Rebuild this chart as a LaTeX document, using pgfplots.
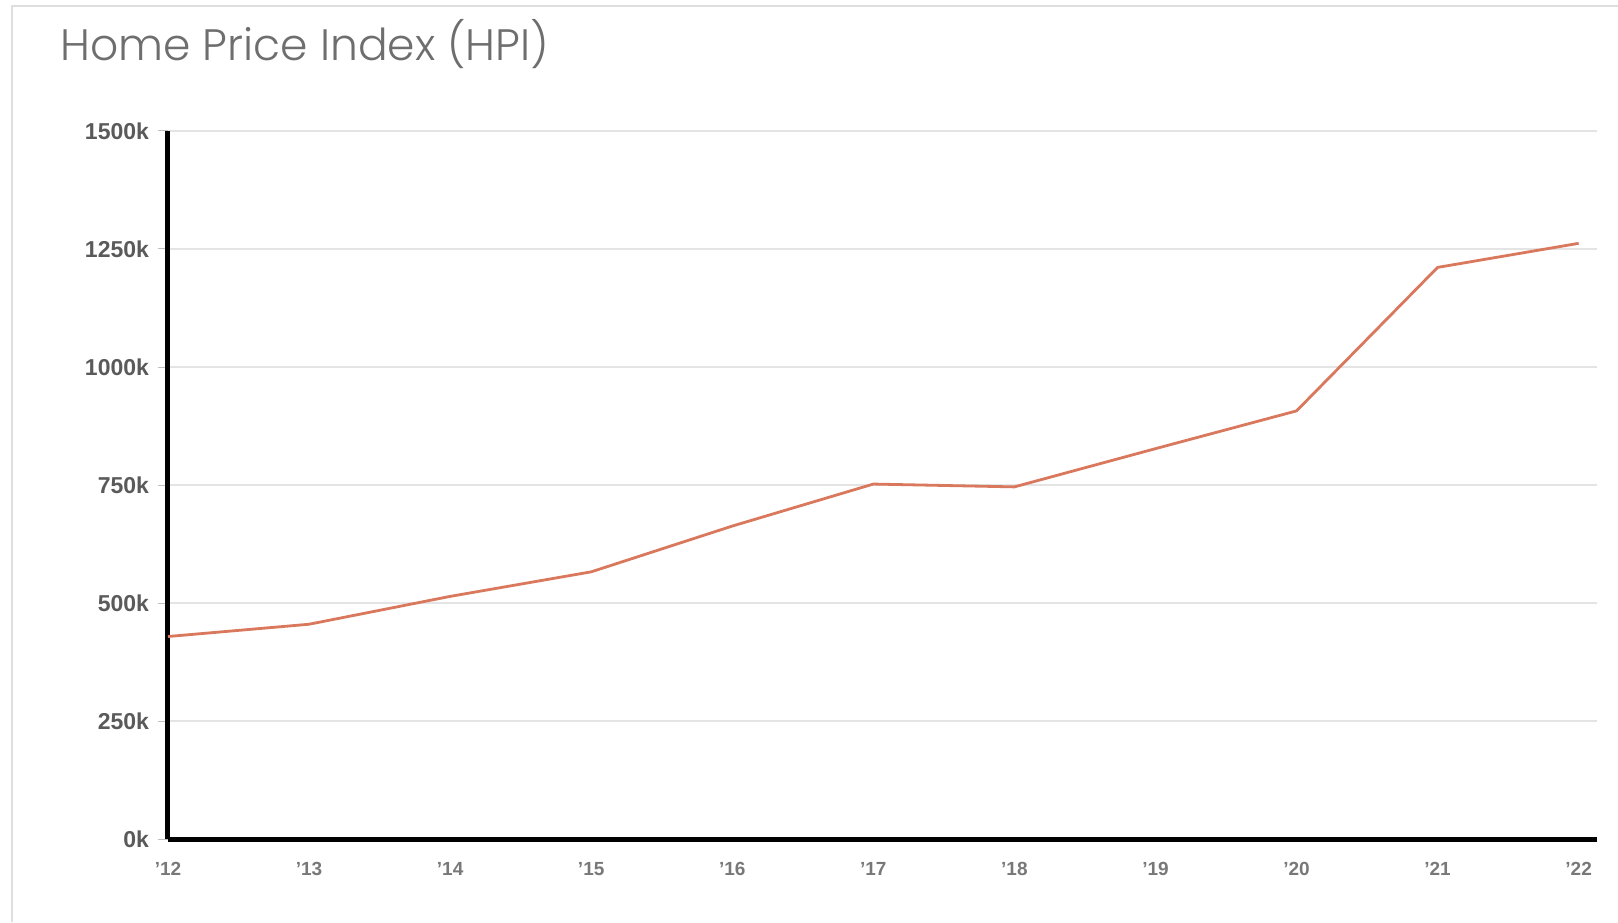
\documentclass[border=0pt]{standalone}
\usepackage{pgfplots}
\pgfplotsset{compat=1.18}
\usepackage{fontspec}
\setmainfont{Liberation Sans}
\newfontfamily\titlefont{Poppins Light}
\definecolor{hpi}{RGB}{217,120,92}
\definecolor{ytext}{RGB}{90,90,90}
\definecolor{xtext}{RGB}{120,120,120}
\definecolor{gridc}{RGB}{228,228,228}
\definecolor{titlec}{RGB}{110,110,110}
\definecolor{framec}{RGB}{222,222,222}
\begin{document}
\begin{tikzpicture}[x=0.5pt,y=0.5pt]
\path[use as bounding box] (0,0) rectangle (1618,922);
\draw[draw=framec, line width=1pt] (12,0) -- (12,916) -- (1618,916);
\node[anchor=base west, text=titlec, inner sep=0pt,
      font=\titlefont\fontsize{22}{26}\selectfont] at (60,861) {Home Price Index (HPI)};
\begin{axis}[
  at={(84pt,41.5pt)}, anchor=south west,
  scale only axis, width=714.5pt, height=354pt,
  xmin=12, xmax=22.13, ymin=0, ymax=1500,
  axis x line=bottom, axis y line=left,
  axis line style={line width=2.5pt, black, -},
  xtick={12,13,14,15,16,17,18,19,20,21,22},
  xticklabels={'12,'13,'14,'15,'16,'17,'18,'19,'20,'21,'22},
  ytick={0,250,500,750,1000,1250,1500},
  yticklabels={0k,250k,500k,750k,1000k,1250k,1500k},
  xtick style={draw=none},
  ytick style={draw=gray!50, line width=0.5pt},
  tick align=outside, major tick length=5pt,
  ymajorgrids, grid style={draw=gridc, line width=1pt},
  yticklabel style={font=\bfseries\fontsize{11.5}{13}\selectfont, text=ytext, xshift=-1pt},
  xticklabel style={font=\bfseries\fontsize{9.5}{12}\selectfont, text=xtext, yshift=-3pt},
  clip=false,
]
\addplot[hpi, line width=1.4pt, mark=none] coordinates {
  (12,429) (13,455) (14,514) (15,566) (16,663) (17,752)
  (18,746) (19,827) (20,907) (21,1211) (22,1262)
};
\end{axis}
\end{tikzpicture}
\end{document}
